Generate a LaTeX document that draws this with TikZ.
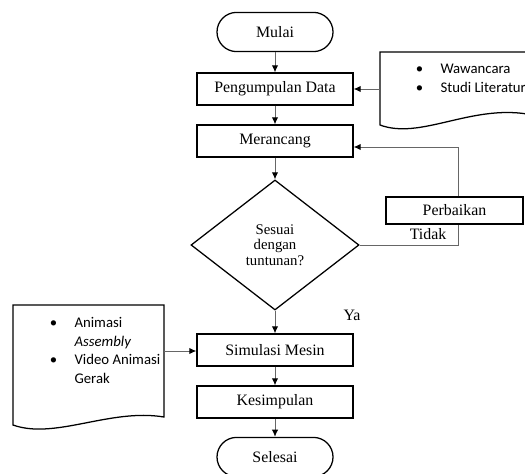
\documentclass[tikz,border=0pt]{standalone}
\usepackage{fontspec}
\setmainfont{Liberation Serif}
\newfontfamily\docfont{Carlito}
\usetikzlibrary{shapes.geometric,arrows.meta}

\begin{document}
\begin{tikzpicture}[x=0.025cm, y=-0.025cm, font=\fontsize{11.3}{13}\selectfont]
      \tikzset{proses/.style={draw, line width=0.9pt, minimum width=3.9cm, minimum height=0.8cm, inner sep=0pt},
               terminal/.style={draw, line width=0.9pt, rounded corners=0.49cm, minimum width=2.9cm, minimum height=0.98cm, inner sep=0pt},
               keputusan/.style={draw, diamond, line width=0.9pt, minimum width=4.2cm, minimum height=3.25cm, inner sep=0pt, align=center, font=\fontsize{10.5}{11}\selectfont},
               garis/.style={draw=black!60, line width=0.7pt},
               panah/.style={garis, -{Latex[color=black, length=5pt, width=4.5pt]}},
               dokumen/.style={draw, line width=0.9pt},
               isi/.style={inner sep=0pt, anchor=west}}
      \useasboundingbox (0,0) rectangle (525,473);
%% Flow
      	\node[terminal] (mulai) at (275,32) {Mulai};
      	\node[proses] (data) at (275,89) {Pengumpulan Data};
      	\node[proses] (rancang) at (275,141) {Merancang};
      	\node[keputusan] (sesuai) at (275,245) {Sesuai\\dengan\\tuntunan?};
      	\node[proses, minimum width=3.43cm, minimum height=0.68cm] (perbaikan) at (454.5,210.5) {Perbaikan};
      	\node[proses] (simulasi) at (275,350) {Simulasi Mesin};
      	\node[proses] (simpulan) at (275,402) {Kesimpulan};
      	\node[terminal] (selesai) at (275,457) {Selesai};
%% Documents
      	\draw[dokumen] (380,52) -- (527,52) -- (527,114) .. controls (470,105) and (420,140) .. (380,125) -- cycle;
      	\node[isi, font=\docfont\fontsize{10.5}{14.2}\selectfont] (sumber) at (415.5,79)
      	  {\begin{tabular}{@{}l@{\hspace{12.4pt}}l@{}}\textbullet & Wawancara\\ \textbullet & Studi Literatur\end{tabular}};
      	\draw[dokumen] (13,305) -- (164,305) -- (164,417) .. controls (110,408) and (55,440) .. (13,425) -- cycle;
      	\node[isi, font=\docfont\fontsize{10.5}{13.2}\selectfont] (animasi) at (49.5,352)
      	  {\begin{tabular}{@{}l@{\hspace{12.4pt}}l@{}}\textbullet & Animasi\\ & \textit{Assembly}\\ \textbullet & Video Animasi\\ & Gerak\end{tabular}};
      	\coordinate (dok1) at (380,89);
      	\coordinate (dok2) at (164,351);
%Labels
      	\node (tidak) at (428,234) {Tidak};
      	\node (ya) at (352,315) {Ya};
%Arrows
		\draw[panah] (mulai) -- (data);
		\draw[panah] (data) -- (rancang);
		\draw[panah] (rancang) -- (sesuai);
		\draw[panah] (sesuai) -- (simulasi);
		\draw[panah] (simulasi) -- (simpulan);
		\draw[panah] (simpulan) -- (selesai);
		\draw[panah] (dok1) -- (data);
		\draw[panah] (dok2) -- (dok2 -| simulasi.west);
%Feedback
		\coordinate (belok) at (458,245);
		\coordinate (atas) at (458,147);
		\draw[garis] (sesuai.east) -- (belok) -- (belok |- perbaikan.south);
		\draw[panah] (belok |- perbaikan.north) -- (atas) -- (atas -| rancang.east);
	\end{tikzpicture}
\end{document}
